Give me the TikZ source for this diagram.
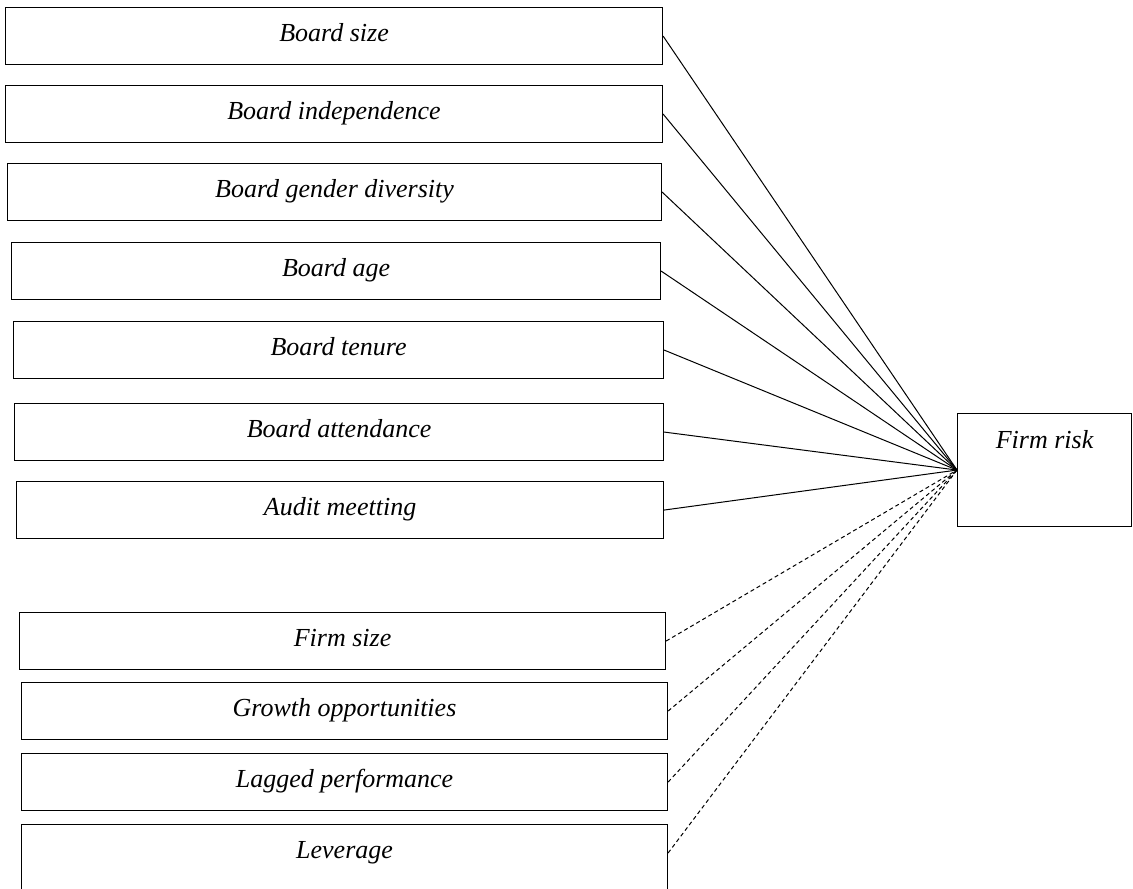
\documentclass[tikz,border=0pt]{standalone}
\usepackage{fontspec}
\setmainfont{Liberation Serif}
\tikzstyle{factor} = [rectangle, draw=black, line width=1.1pt, inner sep=0pt, anchor=north west, text centered, text height=34pt, text depth=23pt, font=\fontsize{26}{30}\selectfont\itshape]
\tikzstyle{link} = [draw=black, line width=1pt]
\tikzstyle{control} = [draw=black, line width=1pt, dash pattern=on 4pt off 3pt]

\begin{document}
\begin{tikzpicture}[x=1pt, y=-1pt]
 \clip (0,0) rectangle (1133,889);

 \node (bsize) [factor, minimum width=657pt] at (5,7) {Board size};
 \node (bindep) [factor, minimum width=657pt] at (5,85) {Board independence};
 \node (bgender) [factor, minimum width=654pt] at (7,163) {Board gender diversity};
 \node (bage) [factor, minimum width=649pt] at (11,242) {Board age};
 \node (btenure) [factor, minimum width=650pt] at (13,321) {Board tenure};
 \node (battend) [factor, minimum width=649pt] at (14,403) {Board attendance};
 \node (audit) [factor, minimum width=647pt] at (16,481) {Audit meetting};

 \node (fsize) [factor, minimum width=646pt] at (19,612) {Firm size};
 \node (growth) [factor, minimum width=646pt] at (21,682) {Growth opportunities};
 \node (lagged) [factor, minimum width=646pt] at (21,753) {Lagged performance};
 \node (lev) [factor, minimum width=646pt, text depth=43pt] at (21,824) {Leverage};

 \node (risk) [factor, minimum width=174pt, text height=35pt, text depth=78pt] at (957,413) {Firm risk};

 \foreach \n in {bsize,bindep,bgender,bage,btenure,battend,audit}
  \draw [link] (\n.east) -- (risk.west);
 \foreach \n in {fsize,growth,lagged}
  \draw [control] (\n.east) -- (risk.west);
 \draw [control] ([yshift=-29pt]lev.north east) -- (risk.west);
\end{tikzpicture}
\end{document}
